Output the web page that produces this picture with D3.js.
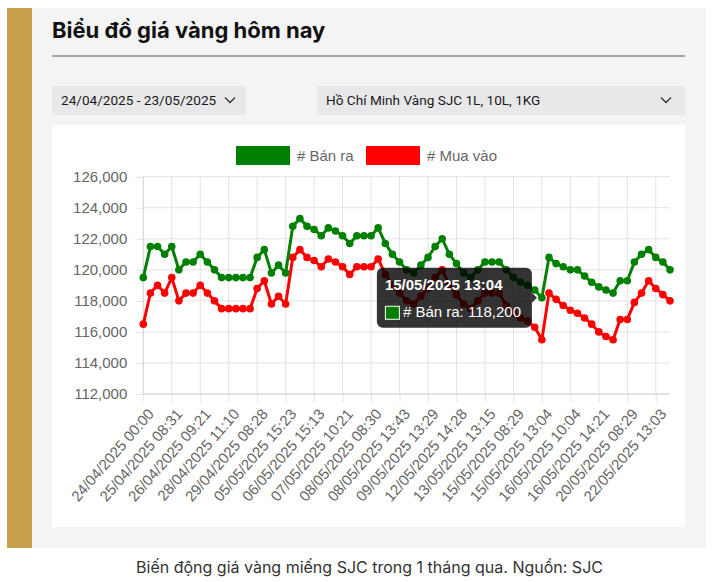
<!DOCTYPE html>
<html>
<head>
<meta charset="utf-8">
<script src="https://cdn.jsdelivr.net/npm/d3@7"></script>
<style>
  html, body { margin: 0; padding: 0; background: #fff; }
  svg { display: block; font-family: "Liberation Sans", Arial, Helvetica, sans-serif; }
  .page { font-family: Inter, "Noto Sans", sans-serif; }
  .dd { font-family: Roboto, "Liberation Sans", sans-serif; }
</style>
</head>
<body>
<svg id="chart" width="714" height="582"></svg>
<script>
// ---------- data ----------
const seriesNames = ["# Bán ra", "# Mua vào"];
const seriesColors = ["#008000", "#ff0000"];

const sellPrices = [
  119500, 121500, 121500, 121000, 121500, 120000, 120500, 120500, 121000, 120500,
  120000, 119500, 119500, 119500, 119500, 119500, 120800, 121300, 119800, 120300,
  119800, 122800, 123300, 122800, 122600, 122200, 122700, 122500, 122200, 121700,
  122200, 122200, 122200, 122700, 121700, 121000, 120500, 120000, 119800, 120300,
  120800, 121500, 122000, 121000, 120400, 119800, 119500, 120000, 120500, 120500,
  120500, 120000, 119500, 119200, 119000, 118700, 118200, 120800, 120400, 120200,
  120000, 120000, 119600, 119200, 118900, 118700, 118500, 119300, 119300, 120500,
  121000, 121300, 120800, 120500, 120000
];

const buyPrices = [
  116500, 118500, 119000, 118500, 119500, 118000, 118500, 118500, 119000, 118500,
  118000, 117500, 117500, 117500, 117500, 117500, 118800, 119300, 117800, 118300,
  117800, 120800, 121300, 120800, 120600, 120200, 120700, 120500, 120200, 119700,
  120200, 120200, 120200, 120700, 119700, 119000, 118500, 118000, 117800, 118300,
  118800, 119500, 120000, 119000, 118400, 117800, 117500, 118000, 118500, 118500,
  118500, 117700, 117200, 116900, 116700, 116300, 115500, 118500, 118100, 117700,
  117400, 117200, 116900, 116500, 116000, 115700, 115500, 116800, 116800, 117900,
  118500, 119300, 118800, 118400, 118000
];

const tickLabels = [
  "24/04/2025 00:00", "25/04/2025 08:31", "26/04/2025 09:21", "28/04/2025 11:10",
  "29/04/2025 08:28", "05/05/2025 15:23", "06/05/2025 15:13", "07/05/2025 10:21",
  "08/05/2025 08:30", "08/05/2025 13:43", "09/05/2025 13:29", "12/05/2025 14:28",
  "13/05/2025 13:15", "15/05/2025 08:29", "15/05/2025 13:04", "16/05/2025 10:04",
  "16/05/2025 14:21", "20/05/2025 08:29", "22/05/2025 13:03"
];
const tickStep = 4;

const yTicks = [112000, 114000, 116000, 118000, 120000, 122000, 124000, 126000];

const titleText = "Biểu đồ giá vàng hôm nay";
const dateRangeText = "24/04/2025 - 23/05/2025";
const locationText = "Hồ Chí Minh Vàng SJC 1L, 10L, 1KG";
const captionText = "Biến động giá vàng miếng SJC trong 1 tháng qua. Nguồn: SJC";

const tooltipIndex = 56;
const tooltipTitle = "15/05/2025 13:04";

// ---------- drawing ----------
const svg = d3.select("#chart");
const W = 714, H = 582;

svg.append("rect").attr("width", W).attr("height", H).attr("fill", "#ffffff");
svg.append("rect").attr("x", 7).attr("y", 8).attr("width", 25).attr("height", 540).attr("fill", "#c9a14d");
svg.append("rect").attr("x", 32).attr("y", 8).attr("width", 674).attr("height", 540).attr("fill", "#f4f4f4");

svg.append("text").attr("class", "page").attr("x", 52).attr("y", 37.5)
  .attr("font-size", 22).attr("font-weight", "bold").attr("fill", "#111")
  .text(titleText);
svg.append("line").attr("x1", 52).attr("x2", 685).attr("y1", 56).attr("y2", 56)
  .attr("stroke", "#8a8a8a").attr("stroke-width", 1.5);

// dropdowns
function dropdown(x, w, label, chevX) {
  svg.append("rect").attr("x", x).attr("y", 86).attr("width", w).attr("height", 29).attr("fill", "#e8e8ea");
  svg.append("text").attr("class", "dd").attr("x", x + 9).attr("y", 105).attr("font-size", 13.6).attr("fill", "#1a1a1a").text(label);
  svg.append("path").attr("d", `M${chevX - 5},${97.5} L${chevX},${102.5} L${chevX + 5},${97.5}`)
    .attr("fill", "none").attr("stroke", "#333").attr("stroke-width", 1.3);
}
dropdown(52, 194, dateRangeText, 230);
dropdown(317, 368, locationText, 666);

// card
svg.append("rect").attr("x", 52).attr("y", 125).attr("width", 633).attr("height", 402).attr("fill", "#ffffff");

// scales
const x = d3.scaleLinear().domain([0, sellPrices.length - 1]).range([143.3, 670]);
const y = d3.scaleLinear().domain([112000, 126000]).range([394, 176.7]);

const gridColor = "#e3e3e3";
const labelColor = "#666666";

// y axis with gridlines
const yAxis = d3.axisLeft(y).tickValues(yTicks).tickFormat(d3.format(",")).tickSize(8).tickPadding(8);
const gy = svg.append("g").attr("transform", "translate(143.3,0)").call(yAxis);
gy.select(".domain").remove();
gy.selectAll("line").attr("stroke", gridColor);
gy.selectAll("text").attr("font-size", 15).attr("fill", labelColor).attr("font-family", "Liberation Sans, Arial, sans-serif");
svg.append("g").selectAll("line").data(yTicks).join("line")
  .attr("x1", 143.3).attr("x2", 670).attr("y1", d => y(d)).attr("y2", d => y(d))
  .attr("stroke", gridColor);

// x axis with gridlines
const xTickIdx = tickLabels.map((_, k) => k * tickStep);
const xAxis = d3.axisBottom(x).tickValues(xTickIdx).tickFormat((d) => tickLabels[d / tickStep]).tickSize(8).tickPadding(0);
const gx = svg.append("g").attr("transform", "translate(0,394)").call(xAxis);
gx.select(".domain").remove();
gx.selectAll("line").attr("stroke", gridColor);
gx.selectAll("text")
  .attr("font-size", 15).attr("fill", labelColor).attr("font-family", "Liberation Sans, Arial, sans-serif")
  .attr("text-anchor", "end").attr("dy", "0.35em")
  .attr("transform", "translate(7,17) rotate(-49)")
  .attr("y", 0);
svg.append("g").selectAll("line").data(xTickIdx).join("line")
  .attr("x1", d => x(d)).attr("x2", d => x(d)).attr("y1", 176.7).attr("y2", 394)
  .attr("stroke", gridColor);
// axis borders
svg.append("line").attr("x1", 143.3).attr("x2", 143.3).attr("y1", 176.7).attr("y2", 394).attr("stroke", "#d6d6d6");
svg.append("line").attr("x1", 143.3).attr("x2", 670).attr("y1", 394).attr("y2", 394).attr("stroke", "#d6d6d6");

// series
const series = [buyPrices, sellPrices];
const colors = [seriesColors[1], seriesColors[0]];
const lineGen = d3.line().x((d, i) => x(i)).y(d => y(d));
series.forEach((vals, s) => {
  svg.append("path").datum(vals).attr("d", lineGen)
    .attr("fill", "none").attr("stroke", colors[s]).attr("stroke-width", 3).attr("stroke-linejoin", "round");
  svg.append("g").selectAll("circle").data(vals).join("circle")
    .attr("cx", (d, i) => x(i)).attr("cy", d => y(d)).attr("r", 3.8).attr("fill", colors[s]);
});

// legend
const legend = [
  { name: seriesNames[0], color: seriesColors[0], x: 236 },
  { name: seriesNames[1], color: seriesColors[1], x: 366 }
];
legend.forEach(l => {
  svg.append("rect").attr("x", l.x).attr("y", 146).attr("width", 54).attr("height", 19).attr("fill", l.color);
  svg.append("text").attr("x", l.x + 61).attr("y", 161).attr("font-size", 15).attr("fill", labelColor).text(l.name);
});

// tooltip
const tpx = x(tooltipIndex), tpy = y(sellPrices[tooltipIndex]);
const boxW = 155, boxH = 60;
const bx = tpx - 10 - boxW, by = tpy - boxH / 2;
const tt = svg.append("g");
tt.append("rect").attr("x", bx).attr("y", by).attr("width", boxW).attr("height", boxH).attr("rx", 6)
  .attr("fill", "rgba(0,0,0,0.8)");
tt.append("path").attr("d", `M${bx + boxW},${tpy - 5} L${bx + boxW + 5},${tpy} L${bx + boxW},${tpy + 5} Z`)
  .attr("fill", "rgba(0,0,0,0.8)");
tt.append("text").attr("x", bx + 8).attr("y", by + 22).attr("font-size", 15).attr("font-weight", "bold")
  .attr("fill", "#fff").text(tooltipTitle);
tt.append("rect").attr("x", bx + 8.5).attr("y", by + 38.5).attr("width", 14).attr("height", 13)
  .attr("fill", seriesColors[0]).attr("stroke", "#fff").attr("stroke-width", 1);
tt.append("text").attr("x", bx + 26).attr("y", by + 49).attr("font-size", 15).attr("fill", "#fff")
  .text(seriesNames[0] + ": " + d3.format(",")(sellPrices[tooltipIndex]));

// caption
svg.append("text").attr("class", "page").attr("x", 369.5).attr("y", 573).attr("text-anchor", "middle")
  .attr("font-size", 16).attr("fill", "#333").text(captionText);
</script>
</body>
</html>
